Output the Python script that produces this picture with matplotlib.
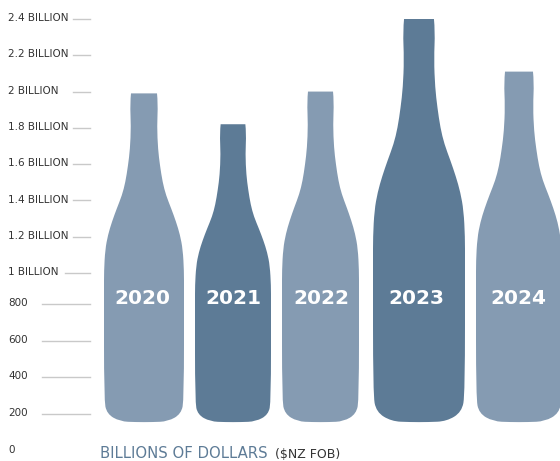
import matplotlib
matplotlib.use("Agg")
import matplotlib.pyplot as plt
from matplotlib.path import Path
from matplotlib.patches import PathPatch
import numpy as np

years = ["2020", "2021", "2022", "2023", "2024"]
export_values = [1.99, 1.82, 2.00, 2.40, 2.11]  # billions
bottle_colors = ["#859BB2", "#5D7B96", "#859BB2", "#5D7B96", "#859BB2"]
bottle_centers = [144, 233, 320.5, 419, 519]
bottle_half_widths = [40, 38, 38.5, 46, 43]
year_label_x = [142, 233, 321, 416, 518]

tick_values = [2.4, 2.2, 2.0, 1.8, 1.6, 1.4, 1.2, 1.0, 0.8, 0.6, 0.4, 0.2, 0]
tick_labels = ["2.4 BILLION", "2.2 BILLION", "2 BILLION", "1.8 BILLION", "1.6 BILLION",
               "1.4 BILLION", "1.2 BILLION", "1 BILLION", "800", "600", "400", "200", "0"]
tick_starts = [73, 73, 73, 73, 73, 73, 73, 65, 41.5, 41.5, 41.5, 41.5, None]

# the axis is stretched differently below and above 1 billion
scale_values = np.array([-0.057, 0.0, 0.8, 1.0, 2.4, 2.505])
scale_pos = np.array([-10.5, 0.0, 146.5, 177.5, 431.5, 450.5])


def forward(v):
    return np.interp(v, scale_values, scale_pos)


def inverse(p):
    return np.interp(p, scale_pos, scale_values)


# bottle outline control points: fraction of height from the top, fraction of half width
profile_t = [0, 0.03, 0.10, 0.17, 0.22, 0.27, 0.31, 0.35, 0.39, 0.43, 0.475, 0.54, 0.60, 0.93, 0.975, 0.998, 1.0]
profile_w = [0.325, 0.35, 0.325, 0.35, 0.40, 0.465, 0.55, 0.68, 0.80, 0.90, 0.97, 1.0, 1.0, 1.0, 0.93, 0.60, 0.20]
base_value = 0.155


def bottle_path(center, half_width, top):
    top_pos = forward(top)
    base_pos = forward(base_value)
    ts = np.array(profile_t)
    ws = np.array(profile_w)
    ys = inverse(top_pos - ts * (top_pos - base_pos))
    # control polygon runs down the right side and back up the left side
    xs = np.concatenate([center + ws * half_width, (center - ws * half_width)[::-1]])
    ys = np.concatenate([ys, ys[::-1]])
    # quadratic segments through the midpoints keep the outline smooth
    verts = [(xs[-1], ys[-1]), (xs[0], ys[0])]
    codes = [Path.MOVETO, Path.LINETO]
    for i in range(1, len(xs) - 1):
        verts.append((xs[i], ys[i]))
        if i < len(xs) - 2:
            verts.append(((xs[i] + xs[i + 1]) / 2, (ys[i] + ys[i + 1]) / 2))
        else:
            verts.append((xs[i + 1], ys[i + 1]))
        codes += [Path.CURVE3, Path.CURVE3]
    verts.append((xs[-1], ys[-1]))
    codes.append(Path.CLOSEPOLY)
    return Path(verts, codes)


plt.rcParams["font.family"] = ["DejaVu Sans"]
fig = plt.figure(figsize=(5.6, 4.61), dpi=100)
ax = fig.add_axes([0, 0, 1, 1])
ax.set_yscale("function", functions=(forward, inverse))
ax.set_xlim(0, 560)
ax.set_ylim(-0.057, 2.505)
ax.axis("off")

for i in range(len(tick_values)):
    ax.text(8, tick_values[i] + 0.005, tick_labels[i], fontsize=7.5, color="#333333", va="center", ha="left")
    if tick_starts[i] is not None:
        ax.plot([tick_starts[i], 90], [tick_values[i], tick_values[i]], color="#C9C9C9", lw=1)

for i in range(len(years)):
    ax.add_patch(PathPatch(bottle_path(bottle_centers[i], bottle_half_widths[i], export_values[i]),
                           facecolor=bottle_colors[i], edgecolor="none"))
    ax.text(year_label_x[i], inverse(450.5 - 298), years[i], fontsize=14.5, fontweight="bold",
            color="white", ha="center", va="center")

ax.text(100, inverse(450.5 - 453), "BILLIONS OF DOLLARS", fontsize=10.7, color="#5D7B96", va="center", ha="left")
ax.text(275, inverse(450.5 - 454), "($NZ FOB)", fontsize=9, color="#333333", va="center", ha="left")

fig.savefig("out.png", dpi=100)
